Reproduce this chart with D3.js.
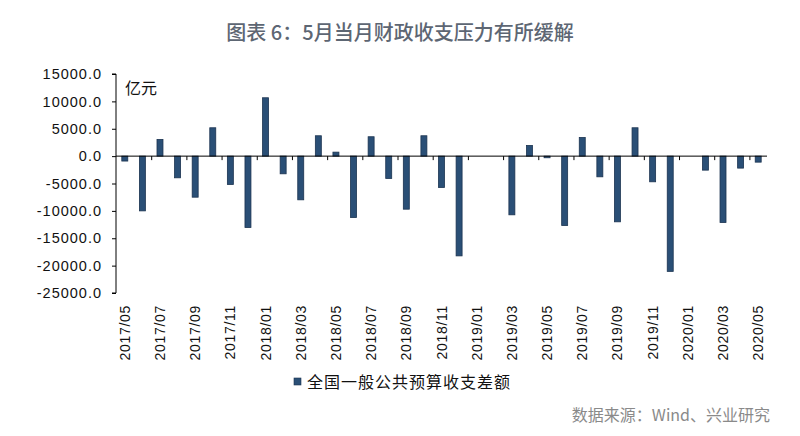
<!DOCTYPE html>
<html><head><meta charset="utf-8">
<script src="https://cdn.jsdelivr.net/npm/d3@7"></script>
<style>
html,body{margin:0;padding:0;background:#fff;}
svg{display:block;}
</style></head>
<body>
<svg id="chart" width="800" height="436"></svg>
<script>
const months = ["2017/05","2017/06","2017/07","2017/08","2017/09","2017/10","2017/11","2017/12",
"2018/01","2018/02","2018/03","2018/04","2018/05","2018/06","2018/07","2018/08","2018/09","2018/10","2018/11","2018/12",
"2019/01","2019/02","2019/03","2019/04","2019/05","2019/06","2019/07","2019/08","2019/09","2019/10","2019/11","2019/12",
"2020/01","2020/02","2020/03","2020/04","2020/05"];
const balance = [-900,-10000,3050,-3960,-7500,5180,-5180,-13040,
10660,-3230,-7980,3720,730,-11220,3540,-4080,-9690,3720,-5730,-18220,
null,null,-10720,1950,-300,-12680,3410,-3780,-12000,5180,-4690,-21050,
null,-2560,-12130,-2190,-1100];
const yTicks = [15000,10000,5000,0,-5000,-10000,-15000,-20000,-25000];
const seriesName = "全国一般公共预算收支差额";
const titleText = "图表 6：5月当月财政收支压力有所缓解";
const unitText = "亿元";
const sourceText = "数据来源：Wind、兴业研究";

(function () {
const svg = d3.select("#chart");
const pl = 116, pr = 767, pt = 74, pb = 293;

const y = d3.scaleLinear().domain([-25000, 15000]).range([pb, pt]);
const x = d3.scaleBand().domain(months).range([pl, pr]).paddingInner(0.66).paddingOuter(0.33);
const xb = d3.scaleLinear().domain([0, months.length]).range([pl, pr]);

// title
svg.append("text").attr("x", 400).attr("y", 40).attr("text-anchor", "middle")
  .attr("font-family", "'Noto Sans CJK SC', sans-serif").attr("font-size", 20).attr("font-weight", 500)
  .attr("fill", "#5d6673").text(titleText);

// y axis
const yAxis = d3.axisLeft(y).tickValues(yTicks).tickSize(4).tickPadding(10)
  .tickFormat(d => d3.format(".1f")(d).replace("−", "-"));
const gy = svg.append("g").attr("transform", `translate(${pl},0)`).call(yAxis);
gy.select(".domain").attr("stroke", "#000").attr("d", `M-4,${pt}H0V${pb}H-4`);
gy.selectAll(".tick line").attr("stroke", "#000");
gy.selectAll(".tick text").attr("font-family", "'Liberation Sans', Arial, sans-serif")
  .attr("font-size", 14.5).attr("letter-spacing", 1.0).attr("fill", "#111");

// unit
svg.append("text").attr("x", 125).attr("y", 94)
  .attr("font-family", "'Noto Sans CJK SC', sans-serif").attr("font-size", 16)
  .attr("fill", "#111").text(unitText);

// bars
svg.append("g").selectAll("rect").data(months.map((m, i) => ({m, v: balance[i]})).filter(d => d.v !== null))
  .join("rect")
  .attr("x", d => x(d.m)).attr("width", x.bandwidth())
  .attr("y", d => Math.min(y(d.v), y(0))).attr("height", d => Math.abs(y(d.v) - y(0)))
  .attr("fill", "#2a4f76").attr("stroke", "#1b3350").attr("stroke-width", 0.8);

// zero axis with category ticks at boundaries
const bTicks = d3.range(2, months.length, 2);
const gx = svg.append("g").attr("transform", `translate(0,${y(0)})`)
  .call(d3.axisBottom(xb).tickValues(bTicks).tickSize(4).tickFormat(""));
gx.select(".domain").attr("stroke", "#000").attr("d", `M${pl},0H${pr}`);
gx.selectAll(".tick line").attr("stroke", "#000");

// category labels
const labelMonths = months.filter((m, i) => i % 2 === 0);
const gl = svg.append("g").attr("transform", `translate(0,${pb})`)
  .call(d3.axisBottom(x).tickValues(labelMonths).tickSize(0));
gl.select(".domain").remove();
gl.selectAll(".tick text")
  .attr("transform", "rotate(-90)")
  .attr("text-anchor", "end").attr("x", -12).attr("y", 0).attr("dy", "0.36em")
  .attr("font-family", "'Liberation Sans', Arial, sans-serif").attr("font-size", 14)
  .attr("letter-spacing", 0.7).attr("fill", "#111");

// legend
const lg = svg.append("g");
lg.append("rect").attr("x", 294).attr("y", 378).attr("width", 7).attr("height", 7)
  .attr("fill", "#2a4f76").attr("stroke", "#1b3350").attr("stroke-width", 0.6);
lg.append("text").attr("x", 307).attr("y", 388)
  .attr("font-family", "'Noto Sans CJK SC', sans-serif").attr("font-size", 16).attr("letter-spacing", 1.0)
  .attr("fill", "#111").text(seriesName);

// source
svg.append("text").attr("x", 770).attr("y", 421).attr("text-anchor", "end")
  .attr("font-family", "'Noto Sans CJK SC', sans-serif").attr("font-size", 16)
  .attr("fill", "#8a8a8a").text(sourceText);
})();
</script>
</body></html>
